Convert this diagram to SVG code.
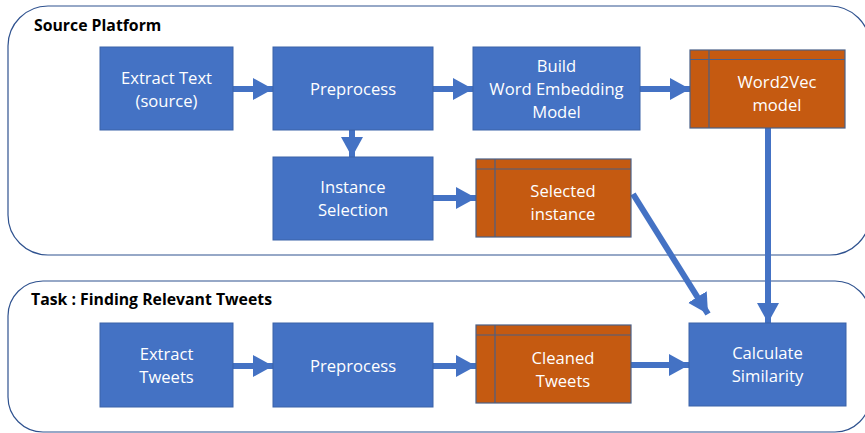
<svg xmlns="http://www.w3.org/2000/svg" width="865" height="433" viewBox="0 0 865 433">
<defs>
<marker id="ah" markerUnits="userSpaceOnUse" markerWidth="22" markerHeight="22" refX="20" refY="11" orient="auto">
<path d="M0,0 L20,11 L0,22 Z" fill="#4472C4"/>
</marker>
<style>
.cont{fill:#fff;stroke:#2F528F;stroke-width:1.2}
.title{font-family:"Open Sans","Noto Sans","Liberation Sans",sans-serif;font-weight:bold;font-size:15.8px;fill:#000}
.blue{fill:#4472C4;stroke:#3A62A8;stroke-width:1}
.org{fill:#C55A11;stroke:#4A5F86;stroke-width:1.2}
.sep{stroke:#4A5F86;stroke-width:1.2;fill:none}
.lbl{font-family:"Open Sans","Noto Sans","Liberation Sans",sans-serif;font-size:16.6px;fill:#fff;text-anchor:middle}
.con{stroke:#4472C4;stroke-width:6;fill:none;marker-end:url(#ah)}
</style>
</defs>
<rect width="865" height="433" fill="#fff"/>
<g id="source-platform">
<rect class="cont" x="8" y="6" width="862" height="249" rx="40"/>
<text class="title" x="34" y="31">Source Platform</text>
</g>
<g id="task">
<rect class="cont" x="8" y="281" width="862" height="151" rx="35"/>
<text class="title" x="31" y="305">Task : Finding Relevant Tweets</text>
</g>
<g id="connectors">
<line class="con" x1="233" y1="89" x2="273" y2="89"/>
<line class="con" x1="433" y1="89" x2="473" y2="89"/>
<line class="con" x1="640" y1="89" x2="690" y2="89"/>
<line class="con" x1="352" y1="130" x2="352" y2="157"/>
<line class="con" x1="433" y1="198" x2="476" y2="198"/>
<line class="con" x1="633" y1="194" x2="708" y2="314"/>
<line class="con" x1="768" y1="128" x2="768" y2="323"/>
<line class="con" x1="233" y1="366" x2="273" y2="366"/>
<line class="con" x1="433" y1="366" x2="476" y2="366"/>
<line class="con" x1="631" y1="365" x2="689" y2="365"/>
</g>
<g id="extract-text">
<rect class="blue" x="100" y="47" width="133" height="83"/>
<text class="lbl" x="166.5" y="84">Extract Text</text>
<text class="lbl" x="166.5" y="107">(source)</text>
</g>
<g id="preprocess-1">
<rect class="blue" x="273" y="47" width="160" height="83"/>
<text class="lbl" x="353" y="95">Preprocess</text>
</g>
<g id="build-model">
<rect class="blue" x="473" y="47" width="167" height="83"/>
<text class="lbl" x="556.5" y="72">Build</text>
<text class="lbl" x="556.5" y="95">Word Embedding</text>
<text class="lbl" x="556.5" y="118">Model</text>
</g>
<g id="word2vec">
<rect class="org" x="690" y="50" width="155" height="78"/>
<path class="sep" d="M690,59.5 H845 M709,50 V128"/>
<text class="lbl" x="777" y="88">Word2Vec</text>
<text class="lbl" x="777" y="111">model</text>
</g>
<g id="instance-selection">
<rect class="blue" x="273" y="157" width="160" height="83"/>
<text class="lbl" x="353" y="193">Instance</text>
<text class="lbl" x="353" y="216">Selection</text>
</g>
<g id="selected-instance">
<rect class="org" x="476" y="159" width="155" height="78"/>
<path class="sep" d="M476,169 H631 M495,159 V237"/>
<text class="lbl" x="563" y="197">Selected</text>
<text class="lbl" x="563" y="220">instance</text>
</g>
<g id="extract-tweets">
<rect class="blue" x="100" y="323" width="133" height="84"/>
<text class="lbl" x="166.5" y="360">Extract</text>
<text class="lbl" x="166.5" y="383">Tweets</text>
</g>
<g id="preprocess-2">
<rect class="blue" x="273" y="323" width="160" height="84"/>
<text class="lbl" x="353" y="372">Preprocess</text>
</g>
<g id="cleaned-tweets">
<rect class="org" x="476" y="325" width="155" height="78"/>
<path class="sep" d="M476,335 H631 M495,325 V403"/>
<text class="lbl" x="563" y="364">Cleaned</text>
<text class="lbl" x="563" y="387">Tweets</text>
</g>
<g id="calculate-similarity">
<rect class="blue" x="689" y="323" width="157" height="83"/>
<text class="lbl" x="767.5" y="359">Calculate</text>
<text class="lbl" x="767.5" y="382">Similarity</text>
</g>
</svg>
